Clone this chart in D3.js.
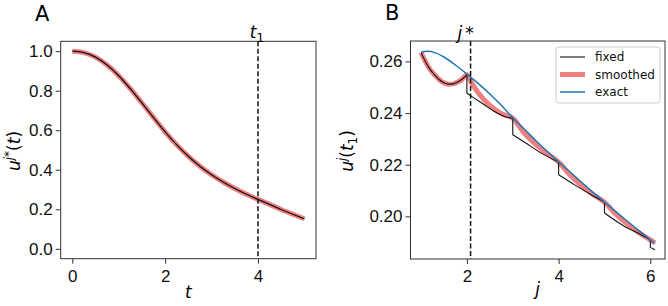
<!DOCTYPE html>
<html lang="en">
<head>
    <meta charset="UTF-8">
    <title>u(t) and u^j(t1)</title>
    <script src="https://d3js.org/d3.v7.min.js"></script>
    <style>
        body { margin: 0; background: #fff; font-family: "DejaVu Sans", sans-serif; }
        .tick text { font-size: 17px; fill: #111; }
        .tick line { stroke: #333; }
    </style>
</head>
<body>
    <svg width="668" height="306"></svg>

    <script>
        // Panel A: u^{j*}(t)
        const tA = [0, 0.25, 0.5, 0.75, 1.0, 1.25, 1.5, 1.75, 2.0, 2.25, 2.5, 2.75, 3.0, 3.25, 3.5, 3.75, 4.0, 4.25, 4.5, 4.75, 5.0];
        const uA = [1.0, 0.993, 0.97, 0.93, 0.876, 0.81, 0.738, 0.664, 0.592, 0.526, 0.468, 0.418, 0.375, 0.338, 0.305, 0.276, 0.25, 0.225, 0.199, 0.175, 0.152];
        const t1 = 4;

        // Panel B: u^j(t1)
        const jExact = [1.0, 1.15, 1.3, 1.5, 1.75, 2.0, 2.25, 2.5, 2.75, 3.0, 3.25, 3.5, 3.75, 4.0, 4.25, 4.5, 4.75, 5.0, 5.25, 5.5, 5.75, 6.0, 6.1];
        const uExact = [0.2636, 0.2639, 0.2634, 0.2617, 0.2586, 0.2551, 0.2514, 0.2474, 0.2430, 0.2382, 0.2338, 0.2294, 0.2252, 0.2211, 0.2172, 0.2132, 0.2093, 0.2055, 0.2018, 0.1981, 0.1945, 0.1909, 0.1895];

        // fixed: a repeated j marks a vertical drop
        const jFixed = [1.0, 1.1, 1.2, 1.3, 1.4, 1.5, 1.6, 1.7, 1.8, 1.9, 2.0,
                        2.0, 2.16, 2.38, 2.6, 2.82, 3.0,
                        3.0, 3.25, 3.62, 4.0,
                        4.0, 4.35, 4.71, 5.0,
                        5.0, 5.44, 5.8, 6.0,
                        6.0, 6.1];
        const uFixed = [0.2634, 0.2598, 0.2568, 0.2547, 0.2529, 0.2517, 0.2512, 0.2513, 0.2520, 0.2532, 0.2548,
                        0.2477, 0.2458, 0.2432, 0.2406, 0.2387, 0.2380,
                        0.2316, 0.2288, 0.2245, 0.2210,
                        0.2161, 0.2122, 0.2084, 0.2055,
                        0.2013, 0.1961, 0.1929, 0.1909,
                        0.1880, 0.1871];

        const jSmooth = [1.0, 1.1, 1.2, 1.3, 1.4, 1.5, 1.6, 1.7, 1.8, 1.9, 2.0, 2.1, 2.25, 2.5, 2.75, 3.0, 3.25, 3.5, 3.75, 4.0, 4.25, 4.5, 4.75, 5.0, 5.25, 5.5, 5.75, 6.0, 6.1];
        const uSmooth = [0.2634, 0.2598, 0.2568, 0.2547, 0.2529, 0.2517, 0.2512, 0.2513, 0.2520, 0.2532, 0.2548, 0.2518, 0.2478, 0.2430, 0.2398, 0.2380, 0.2322, 0.2279, 0.2243, 0.2210, 0.2160, 0.2119, 0.2085, 0.2055, 0.2008, 0.1970, 0.1937, 0.1909, 0.1897];
        const jStar = 2.08;

        const svg = d3.select("svg");
        const pink = "#f08080", blue = "#1f77b4";

        // Scales
        const xA = d3.scaleLinear().domain([-0.25, 5.25]).range([60.7, 316]);
        const yA = d3.scaleLinear().domain([-0.05, 1.05]).range([258.7, 41.3]);
        const xB = d3.scaleLinear().domain([0.77, 6.32]).range([410.5, 665]);
        const yB = d3.scaleLinear().domain([0.1835, 0.2679]).range([259, 41]);

        function drawAxes(x, y, xt, yt, fmt) {
            svg.append("g")
                .attr("transform", `translate(0,${y.range()[0]})`)
                .call(d3.axisBottom(x).tickValues(xt).tickFormat(d3.format("d")).tickSize(5).tickPadding(6))
                .call(g => g.select(".domain").remove());
            svg.append("g")
                .attr("transform", `translate(${x.range()[0]},0)`)
                .call(d3.axisLeft(y).tickValues(yt).tickFormat(d3.format(fmt)).tickSize(5).tickPadding(3))
                .call(g => g.select(".domain").remove());
            svg.append("rect")
                .attr("x", x.range()[0]).attr("y", y.range()[1])
                .attr("width", x.range()[1] - x.range()[0])
                .attr("height", y.range()[0] - y.range()[1])
                .attr("fill", "none").attr("stroke", "#333").attr("stroke-width", 1);
        }

        drawAxes(xA, yA, [0, 2, 4], [0, 0.2, 0.4, 0.6, 0.8, 1.0], ".1f");
        drawAxes(xB, yB, [2, 4, 6], [0.20, 0.22, 0.24, 0.26], ".2f");

        // Panel A curves
        const lineA = d3.line().x(d => xA(d[0])).y(d => yA(d[1])).curve(d3.curveMonotoneX);
        const ptsA = tA.map((t, i) => [t, uA[i]]);
        svg.append("path").attr("d", lineA(ptsA))
            .attr("fill", "none").attr("stroke", pink).attr("stroke-width", 5);
        svg.append("path").attr("d", lineA(ptsA))
            .attr("fill", "none").attr("stroke", "#111").attr("stroke-width", 1.3);

        svg.append("line")
            .attr("x1", xA(t1)).attr("x2", xA(t1))
            .attr("y1", yA.range()[1]).attr("y2", yA.range()[0])
            .attr("stroke", "#111").attr("stroke-width", 1.5).attr("stroke-dasharray", "5,2.5");

        // Panel B curves
        const lineB = d3.line().x(d => xB(d[0])).y(d => yB(d[1])).curve(d3.curveMonotoneX);

        const ptsS = jSmooth.map((j, i) => [j, uSmooth[i]]);
        svg.append("path").attr("d", lineB(ptsS))
            .attr("fill", "none").attr("stroke", pink).attr("stroke-width", 5);

        // split fixed into pieces at repeated j, then join with drops
        const pieces = [[]];
        jFixed.forEach((j, i) => {
            const cur = pieces[pieces.length - 1];
            if (cur.length && cur[cur.length - 1][0] === j) pieces.push([]);
            pieces[pieces.length - 1].push([j, uFixed[i]]);
        });
        pieces.forEach((p, k) => {
            if (p.length > 1) {
                svg.append("path").attr("d", lineB(p))
                    .attr("fill", "none").attr("stroke", "#111").attr("stroke-width", 1.1);
            }
            if (k > 0) {
                const prev = pieces[k - 1][pieces[k - 1].length - 1];
                svg.append("line")
                    .attr("x1", xB(prev[0])).attr("x2", xB(p[0][0]))
                    .attr("y1", yB(prev[1])).attr("y2", yB(p[0][1]))
                    .attr("stroke", "#111").attr("stroke-width", 1.1);
            }
        });

        const ptsE = jExact.map((j, i) => [j, uExact[i]]);
        svg.append("path").attr("d", lineB(ptsE))
            .attr("fill", "none").attr("stroke", blue).attr("stroke-width", 1.5);

        svg.append("line")
            .attr("x1", xB(jStar)).attr("x2", xB(jStar))
            .attr("y1", yB.range()[1]).attr("y2", yB.range()[0])
            .attr("stroke", "#111").attr("stroke-width", 1.5).attr("stroke-dasharray", "5,2.5");

        // Legend
        const legend = svg.append("g").attr("transform", "translate(556,47)");
        legend.append("rect")
            .attr("width", 104).attr("height", 56).attr("rx", 3)
            .attr("fill", "#fff").attr("fill-opacity", 0.8)
            .attr("stroke", "#ccc");
        const legItems = [["fixed", "#111", 1.1], ["smoothed", pink, 5], ["exact", blue, 1.5]];
        legItems.forEach((it, i) => {
            const yy = 10 + i * 17.5;
            legend.append("line")
                .attr("x1", 4).attr("x2", 29).attr("y1", yy).attr("y2", yy)
                .attr("stroke", it[1]).attr("stroke-width", it[2]);
            legend.append("text")
                .attr("x", 39).attr("y", yy + 4.3)
                .style("font-size", "12px").attr("fill", "#111")
                .text(it[0]);
        });

        // Panel letters
        svg.append("text").attr("x", 35).attr("y", 21).style("font-size", "21px").text("A");
        svg.append("text").attr("x", 385).attr("y", 20).style("font-size", "21px").text("B");

        // Axis labels
        svg.append("text").attr("x", 188.3).attr("y", 298)
            .attr("text-anchor", "middle").style("font-size", "17px").style("font-style", "italic").text("t");
        svg.append("text").attr("x", 537.7).attr("y", 295)
            .attr("text-anchor", "middle").style("font-size", "17px").style("font-style", "italic").text("j");

        const labA = svg.append("text")
            .attr("transform", "translate(20,151) rotate(-90)")
            .attr("text-anchor", "middle").style("font-size", "17px");
        labA.append("tspan").style("font-style", "italic").text("u");
        labA.append("tspan").attr("dy", -7).style("font-size", "12px").style("font-style", "italic").text("j");
        labA.append("tspan").style("font-size", "12px").text("*");
        labA.append("tspan").attr("dy", 7).text("(");
        labA.append("tspan").style("font-style", "italic").text("t");
        labA.append("tspan").text(")");

        const labB = svg.append("text")
            .attr("transform", "translate(353,151) rotate(-90)")
            .attr("text-anchor", "middle").style("font-size", "17px");
        labB.append("tspan").style("font-style", "italic").text("u");
        labB.append("tspan").attr("dy", -7).style("font-size", "12px").style("font-style", "italic").text("j");
        labB.append("tspan").attr("dy", 7).text("(");
        labB.append("tspan").style("font-style", "italic").text("t");
        labB.append("tspan").attr("dy", 4).style("font-size", "12px").text("1");
        labB.append("tspan").attr("dy", -4).text(")");

        // Line labels
        const tl = svg.append("text").attr("x", xA(t1) - 1).attr("y", 38)
            .attr("text-anchor", "middle").style("font-size", "17px");
        tl.append("tspan").style("font-style", "italic").text("t");
        tl.append("tspan").attr("dy", 4).style("font-size", "12px").text("1");

        const jl = svg.append("text").attr("x", xB(jStar) - 5).attr("y", 39)
            .attr("text-anchor", "middle").style("font-size", "17px");
        jl.append("tspan").style("font-style", "italic").text("j");
        jl.append("tspan").attr("dx", 3).text("*");
    </script>
</body>
</html>
